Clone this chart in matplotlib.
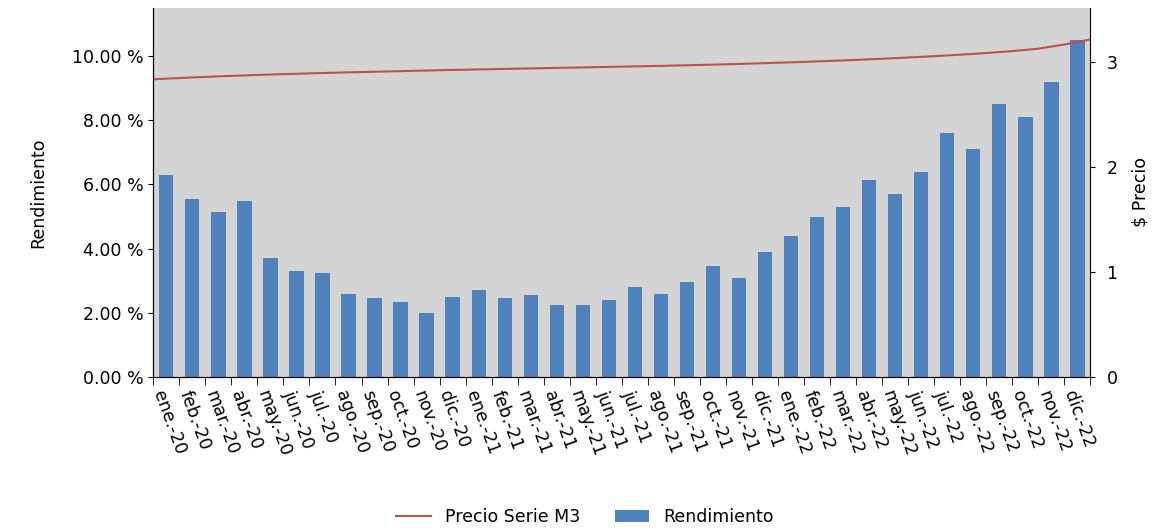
import matplotlib.pyplot as plt
import numpy as np

meses = ["ene", "feb", "mar", "abr", "may", "jun", "jul", "ago", "sep", "oct", "nov", "dic"]
labels = [f"{m}.-{a}" for a in ["20", "21", "22"] for m in meses]
rendimiento = [6.3, 5.55, 5.15, 5.5, 3.7, 3.3, 3.25, 2.6, 2.45, 2.35, 2.0, 2.5,
               2.7, 2.45, 2.55, 2.25, 2.25, 2.4, 2.8, 2.6, 2.95, 3.45, 3.1, 3.9,
               4.4, 5.0, 5.3, 6.15, 5.7, 6.4, 7.6, 7.1, 8.5, 8.1, 9.2, 10.5]
precio = [2.84, 2.852, 2.863, 2.873, 2.882, 2.89, 2.897, 2.904, 2.91, 2.916, 2.922, 2.928,
          2.933, 2.938, 2.943, 2.948, 2.953, 2.958, 2.963, 2.968, 2.974, 2.98, 2.987, 2.995,
          3.003, 3.012, 3.022, 3.033, 3.045, 3.058, 3.072, 3.088, 3.107, 3.13, 3.17, 3.22]

plt.rcParams['font.family'] = ['DejaVu Sans']
fig = plt.figure(figsize=(11.7, 5.31), dpi=100)
ax = fig.add_axes([0.131, 0.29, 0.801, 0.695])
ax.set_facecolor("#d4d4d4")
x = np.arange(len(labels))
bars = ax.bar(x, rendimiento, width=0.55, color="#4f81bd", label="Rendimiento", zorder=2)
ax.set_xlim(-0.5, len(labels) - 0.5)
ax.set_ylim(0, 11.5)
ax.set_yticks(np.arange(0, 11, 2))
ax.set_yticklabels([f"{v:.2f} %" for v in np.arange(0, 11, 2)], fontsize=12.5)
ax.set_ylabel("Rendimiento", fontsize=12.5, labelpad=18)
ax.set_xticks(x)
ax.set_xticklabels(labels, rotation=-70, ha="left", rotation_mode="anchor", fontsize=12.5)
ax.tick_params(axis="x", length=0, pad=8)
ax.set_xticks(np.arange(-0.5, len(labels)), minor=True)
ax.tick_params(axis="x", which="minor", length=6, direction="out")
for s in ["top", "right"]:
    ax.spines[s].set_visible(False)

ax2 = ax.twinx()
line, = ax2.plot(np.linspace(-0.5, len(labels) - 0.5, len(precio)), precio,
                 color="#c0504d", lw=1.5, label="Precio Serie M3")
ax2.set_ylim(0, 3.52)
ax2.set_yticks([0, 1, 2, 3])
ax2.tick_params(axis="y", labelsize=12.5, pad=8)
ax2.set_ylabel("$ Precio", fontsize=12.5, labelpad=10)
ax2.spines["top"].set_visible(False)

fig.legend([line, bars], ["Precio Serie M3", "Rendimiento"], loc="lower center",
           ncol=2, frameon=False, fontsize=12.5, bbox_to_anchor=(0.5, -0.02), columnspacing=2)
fig.savefig("out.png")
